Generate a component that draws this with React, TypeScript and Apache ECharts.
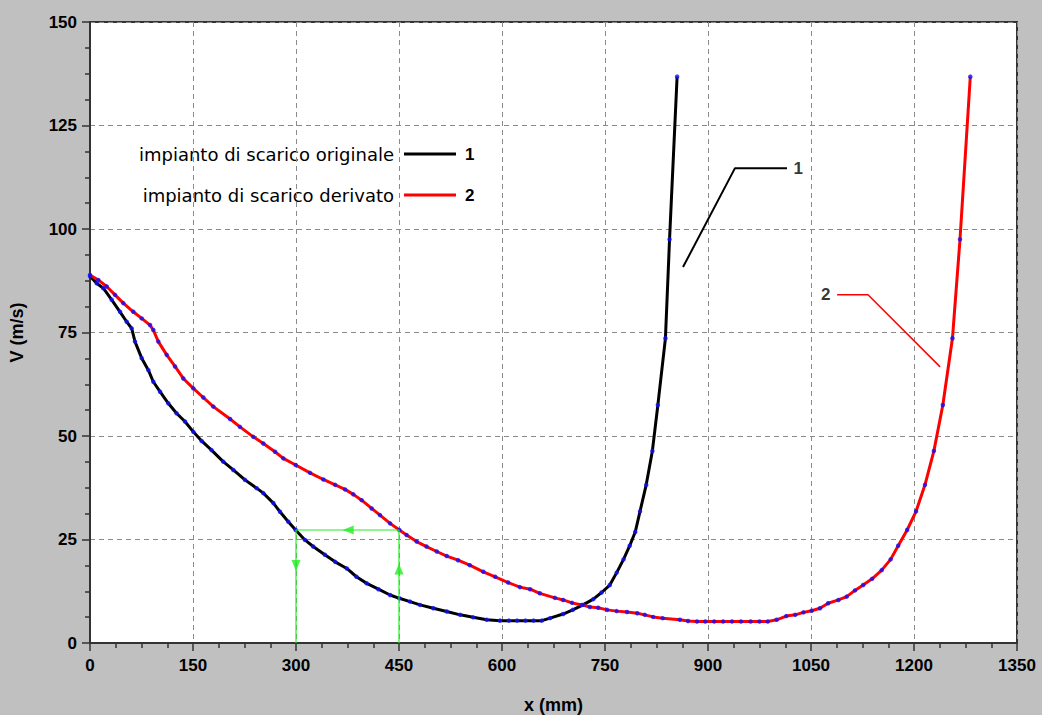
import React, { useEffect, useRef } from "react";
import * as echarts from "echarts";

// Curve 1: impianto di scarico originale
const xOriginal = [
  0, 9.7, 19.4, 31.6, 43.7, 53.4, 60.7, 65.5, 75.3, 85, 92.2, 102, 114, 126, 138.3, 150.5, 162.6, 177,
  194, 208.7, 225.7, 242.7, 252.4, 267, 276.7, 288.8, 299.5, 313, 325, 342, 357, 374, 388, 403, 420,
  437, 450.5, 466, 480.6, 500, 519.5, 539, 558, 577.7, 597, 610, 622, 634, 646, 658, 670, 689, 703,
  718, 733, 745, 757, 767, 777, 786, 794, 801, 810, 819, 827, 838, 844, 855,
];
const vOriginal = [
  88.6, 86.9, 85.7, 82.9, 80.0, 77.6, 76.0, 72.8, 68.8, 65.9, 63.1, 60.7, 57.9, 55.5, 53.5, 51.0, 48.8, 46.6,
  43.8, 41.8, 39.4, 37.4, 36.2, 33.8, 31.7, 29.3, 27.3, 24.9, 23.3, 21.3, 19.6, 18.0, 16.0, 14.4, 13.0,
  11.6, 10.8, 10.0, 9.2, 8.4, 7.6, 6.8, 6.2, 5.6, 5.4, 5.4, 5.4, 5.4, 5.4, 5.4, 6.0, 7.0, 8.0,
  9.2, 10.6, 12.2, 14.0, 17.0, 20.2, 23.5, 26.8, 31.8, 38.2, 46.4, 57.5, 73.6, 97.5, 136.8,
];

// Curve 2: impianto di scarico derivato
const xDerived = [
  0, 12, 24.3, 36.4, 48.5, 63, 75.3, 87.4, 92.2, 99.5, 111.7, 123.8, 135.9, 150.5, 165, 179.6, 204,
  218.4, 237.8, 252.4, 269.4, 281.5, 299.5, 320.4, 339.8, 357, 371.4, 383.5, 395.6, 410.2, 422.3, 437,
  450.5, 461, 475.7, 490, 505, 519.5, 536, 553, 572.8, 590, 609, 626, 641, 655, 677, 689, 702, 716,
  728, 740, 753, 767, 782, 797, 808, 820, 834, 859, 871, 884, 896, 909, 922, 935, 948, 962, 975, 987,
  1000, 1014, 1027, 1039, 1051, 1063, 1075, 1090, 1102, 1114, 1126, 1139, 1153, 1166, 1177, 1190,
  1203, 1216, 1229, 1242, 1256, 1267, 1282,
];
const vDerived = [
  88.9, 87.7, 86.1, 84.1, 82.1, 80.0, 78.4, 76.8, 75.6, 72.8, 69.6, 66.8, 63.9, 61.5, 59.3, 57.1, 54.1,
  52.2, 49.8, 48.2, 46.2, 44.6, 43.0, 41.1, 39.5, 38.2, 37.1, 35.9, 34.5, 32.5, 30.9, 28.9,
  27.3, 26.1, 24.5, 23.3, 22.1, 21.0, 20.0, 18.8, 17.2, 16.0, 14.6, 13.5, 13.0, 12.0, 10.9, 10.4, 9.7, 9.2,
  8.7, 8.5, 8.0, 7.7, 7.5, 7.2, 6.8, 6.3, 6.0, 5.6, 5.3, 5.2, 5.2, 5.2, 5.2, 5.2, 5.2, 5.2, 5.2, 5.2,
  5.6, 6.5, 6.8, 7.4, 7.8, 8.4, 9.6, 10.4, 11.2, 12.7, 14.0, 15.5, 17.6, 20.2, 23.5, 27.3,
  31.8, 38.2, 46.4, 57.5, 73.6, 97.5, 136.8,
];

// Green construction lines
const guideX = [300, 300, 450, 450];
const guideV = [0, 27.3, 27.3, 0];
const arrowX = [300, 450, 376];
const arrowV = [18.7, 17.9, 27.3];
const arrowRot = [180, 0, 90];

// Leader lines for labels
const leader1X = [863.6, 939.3, 1015];
const leader1V = [90.8, 114.7, 114.7];
const leader2X = [1238, 1133, 1088];
const leader2V = [66.7, 84.1, 84.1];
const leaderLabels = ["1", "2"];

const legendNames = ["impianto di scarico originale", "impianto di scarico derivato"];
const legendIds = ["1", "2"];
const legendColors = ["#000000", "#ff0000"];

const pairs = (xs: number[], ys: number[]) => xs.map((x, i) => [x, ys[i]]);

const labelFont = "Liberation Sans";

export default function App() {
  const ref = useRef<HTMLDivElement>(null);
  useEffect(() => {
    if (!ref.current) return;
    const chart = echarts.init(ref.current, undefined, { renderer: "svg" });
    const legendGraphics: any[] = [];
    legendNames.forEach((name, i) => {
      const y = 154 + i * 41;
      legendGraphics.push({
        type: "text",
        x: 394,
        y,
        style: {
          text: name,
          align: "right",
          verticalAlign: "middle",
          font: "18px 'DejaVu Sans', sans-serif",
          fill: "#000",
        },
      });
      legendGraphics.push({
        type: "line",
        shape: { x1: 404, y1: y, x2: 456, y2: y },
        style: { stroke: legendColors[i], lineWidth: 3 },
      });
      legendGraphics.push({
        type: "text",
        x: 465,
        y,
        style: {
          text: legendIds[i],
          align: "left",
          verticalAlign: "middle",
          font: "bold 17px 'Liberation Sans', Arial, sans-serif",
          fill: "#000",
        },
      });
    });

    const tickFmt = (v: number) => String(v);

    chart.setOption({
      animation: false,
      backgroundColor: "#c0c0c0",
      grid: {
        left: 90,
        right: 25,
        top: 22,
        bottom: 72,
        outerBoundsMode: "none",
        containLabel: false,
        show: true,
        backgroundColor: "#ffffff",
        borderColor: "#333333",
        borderWidth: 2,
      },
      xAxis: {
        type: "value",
        min: 0,
        max: 1350,
        interval: 150,
        name: "x (mm)",
        nameLocation: "middle",
        nameGap: 53,
        nameTextStyle: { fontFamily: labelFont, fontWeight: "bold", fontSize: 18, color: "#000" },
        axisLine: { show: true, lineStyle: { color: "#333333", width: 2 } },
        axisTick: { show: true, length: 8, lineStyle: { color: "#333333", width: 1.5 } },
        minorTick: { show: true, splitNumber: 4, length: 5, lineStyle: { color: "#333333", width: 1.5 } },
        axisLabel: {
          margin: 14,
          formatter: tickFmt,
          fontFamily: labelFont,
          fontWeight: "bold",
          fontSize: 17,
          color: "#000",
        },
        splitLine: { show: true, lineStyle: { color: "#8a8a8a", type: [5, 4], width: 1 } },
      },
      yAxis: {
        type: "value",
        min: 0,
        max: 150,
        interval: 25,
        name: "V (m/s)",
        nameLocation: "middle",
        nameGap: 64,
        nameTextStyle: { fontFamily: labelFont, fontWeight: "bold", fontSize: 18, color: "#000" },
        axisLine: { show: true, lineStyle: { color: "#333333", width: 2 } },
        axisTick: { show: true, length: 8, lineStyle: { color: "#333333", width: 1.5 } },
        minorTick: { show: true, splitNumber: 4, length: 5, lineStyle: { color: "#333333", width: 1.5 } },
        axisLabel: {
          margin: 13,
          formatter: tickFmt,
          fontFamily: labelFont,
          fontWeight: "bold",
          fontSize: 17,
          color: "#000",
        },
        splitLine: { show: true, lineStyle: { color: "#8a8a8a", type: [5, 4], width: 1 } },
      },
      graphic: legendGraphics,
      series: [
        {
          type: "line",
          z: 3,
          name: legendNames[0],
          data: pairs(xOriginal, vOriginal),
          showSymbol: false,
          lineStyle: { color: "#000000", width: 3 },
        },
        {
          type: "line",
          z: 3,
          name: legendNames[1],
          data: pairs(xDerived, vDerived),
          showSymbol: false,
          lineStyle: { color: "#ff0000", width: 3 },
        },
        {
          type: "scatter",
          z: 4,
          data: pairs(xOriginal, vOriginal),
          symbol: "circle",
          symbolSize: 4.5,
          itemStyle: { color: "#1010ff" },
          silent: true,
        },
        {
          type: "scatter",
          z: 4,
          data: pairs(xDerived, vDerived),
          symbol: "circle",
          symbolSize: 4.5,
          itemStyle: { color: "#1010ff" },
          silent: true,
        },
        {
          type: "line",
          z: 5,
          data: pairs(guideX, guideV),
          showSymbol: false,
          lineStyle: { color: "#22ee22", width: 1.2 },
        },
        {
          type: "scatter",
          z: 6,
          data: arrowX.map((x, i) => ({ value: [x, arrowV[i]], symbolRotate: arrowRot[i] })),
          symbol: "triangle",
          symbolSize: [9, 11],
          itemStyle: { color: "#22ee22" },
        },
        {
          type: "line",
          z: 4,
          data: pairs(leader1X, leader1V),
          showSymbol: false,
          lineStyle: { color: "#000000", width: 2 },
        },
        {
          type: "line",
          z: 4,
          data: pairs(leader2X, leader2V),
          showSymbol: false,
          lineStyle: { color: "#ff0000", width: 1.5 },
        },
        {
          type: "scatter",
          z: 6,
          symbolSize: 1,
          itemStyle: { color: "rgba(0,0,0,0)" },
          data: [
            {
              value: [leader1X[2], leader1V[2]],
              label: { show: true, position: "right", distance: 6, formatter: leaderLabels[0] },
            },
            {
              value: [leader2X[2], leader2V[2]],
              label: { show: true, position: "left", distance: 6, formatter: leaderLabels[1] },
            },
          ],
          label: {
            fontFamily: labelFont,
            fontWeight: "bold",
            fontSize: 17,
            color: "#000",
          },
        },
      ],
    });
    return () => chart.dispose();
  }, []);
  return <div ref={ref} style={{ width: 1042, height: 715, position: "absolute", left: 0, top: 0 }} />;
}
